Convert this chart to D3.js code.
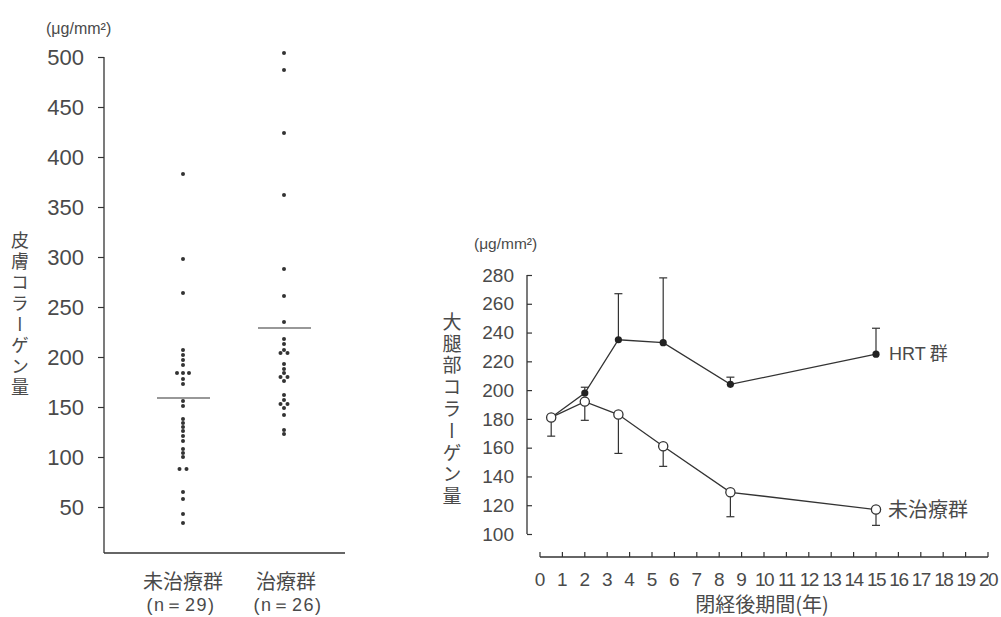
<!DOCTYPE html>
<html>
<head>
<meta charset="utf-8">
<script src="https://cdn.jsdelivr.net/npm/d3@7"></script>
<style>
  body { margin: 0; background: #fff; }
  text { font-family: "Liberation Sans", Arial, sans-serif; fill: #4a4a4a; }
  .jp { font-family: "Noto Sans CJK JP", sans-serif; }
</style>
</head>
<body>
<svg id="chart" width="1001" height="617"></svg>
<script>
// ---- Skin collagen by group (dot plot) ----
const groups = ["未治療群", "治療群"];
const groupN = ["(n＝29)", "(n＝26)"];
const untreatedSkin = [383, 298, 264, 207, 202, 197, 192, 184, 184, 184, 178, 173,
  156, 151, 138, 134, 130, 126, 121, 116, 108, 104, 100, 88, 88, 65, 58, 43, 34];
const treatedSkin = [504, 487, 424, 362, 288, 261, 235, 218, 213, 207, 204, 204,
  193, 188, 184, 180, 180, 176, 162, 157, 153, 153, 149, 142, 127, 123];
const groupMeans = [159, 229];
const skinTicks = [50, 100, 150, 200, 250, 300, 350, 400, 450, 500];

// ---- Thigh collagen vs. years since menopause ----
const years = [0.5, 2, 3.5, 5.5, 8.5, 15];
const hrtMean = [181, 198, 235, 233, 204, 225];
const hrtUpper = [181, 202, 267, 278, 209, 243];
const untreatedMean = [181, 192, 183, 161, 129, 117];
const untreatedLower = [168, 179, 156, 147, 112, 106];
const yearTicks = [0, 1, 2, 3, 4, 5, 6, 7, 8, 9, 10, 11, 12, 13, 14, 15, 16, 17, 18, 19, 20];
const thighTicks = [100, 120, 140, 160, 180, 200, 220, 240, 260, 280];

const ink = "#333";
const svg = d3.select("#chart");

// ================= left panel =================
const yS = d3.scaleLinear().domain([0, 500]).range([557, 57]);
const xS = d3.scalePoint().domain(groups).range([183, 284]);
const leftAxisX = 104, leftAxisBottom = 553, leftAxisRight = 345;

const left = svg.append("g");
left.append("line").attr("x1", leftAxisX).attr("x2", leftAxisX)
  .attr("y1", yS(500)).attr("y2", leftAxisBottom).attr("stroke", ink).attr("stroke-width", 1.3);
left.append("line").attr("x1", leftAxisX).attr("x2", leftAxisRight)
  .attr("y1", leftAxisBottom).attr("y2", leftAxisBottom).attr("stroke", ink).attr("stroke-width", 1.3);

const yAxisL = d3.axisLeft(yS).tickValues(skinTicks).tickSize(6).tickPadding(14);
const gL = left.append("g").attr("transform", `translate(${leftAxisX},0)`).call(yAxisL);
gL.select(".domain").remove();
gL.selectAll(".tick line").attr("stroke", ink).attr("stroke-width", 1.2);
gL.selectAll(".tick text").style("font-size", "22px").attr("fill", "#4a4a4a");

// dots: equal values spread side by side
function spread(values) {
  const counts = d3.rollup(values, v => v.length, d => d);
  const seen = new Map();
  return values.map(v => {
    const n = counts.get(v), i = seen.get(v) || 0;
    seen.set(v, i + 1);
    return { v, dx: (i - (n - 1) / 2) * (n === 2 ? 7 : 6) };
  });
}
[untreatedSkin, treatedSkin].forEach((vals, gi) => {
  left.append("g").selectAll("circle").data(spread(vals)).join("circle")
    .attr("cx", d => xS(groups[gi]) + d.dx)
    .attr("cy", d => yS(d.v))
    .attr("r", 2).attr("fill", "#333");
  left.append("line")
    .attr("x1", xS(groups[gi]) - 26).attr("x2", xS(groups[gi]) + 27)
    .attr("y1", yS(groupMeans[gi])).attr("y2", yS(groupMeans[gi]))
    .attr("stroke", ink).attr("stroke-width", 1.1);
});

left.append("text").attr("x", 46).attr("y", 34).style("font-size", "16px")
  .text("(μg/mm²)");
left.append("text").attr("class", "jp").attr("x", 20).attr("y", 231)
  .attr("writing-mode", "vertical-rl").style("font-size", "18px").style("letter-spacing", "3px")
  .text("皮膚コラーゲン量");
groups.forEach((g, i) => {
  left.append("text").attr("class", "jp").attr("x", xS(g) - (i ? -2 : 0)).attr("y", 589)
    .attr("text-anchor", "middle").style("font-size", "20px").text(g);
  left.append("text").attr("x", xS(g) + (i ? 4 : -2)).attr("y", 611)
    .attr("text-anchor", "middle").style("font-size", "18px").style("letter-spacing", "1.5px")
    .text(groupN[i]);
});

// ================= right panel =================
const xR = d3.scaleLinear().domain([0, 20]).range([540, 988]);
const yR = d3.scaleLinear().domain([100, 280]).range([534, 275]);
const rAxisX = 527, xAxisY = 557;

const right = svg.append("g");
right.append("line").attr("x1", rAxisX).attr("x2", rAxisX)
  .attr("y1", yR(280)).attr("y2", yR(100)).attr("stroke", ink).attr("stroke-width", 1.3);
const yAxisR = d3.axisRight(yR).tickValues(thighTicks).tickSize(5).tickFormat("");
const gR = right.append("g").attr("transform", `translate(${rAxisX},0)`).call(yAxisR);
gR.select(".domain").remove();
gR.selectAll(".tick line").attr("stroke", ink).attr("stroke-width", 1.2);
right.append("g").selectAll("text").data(thighTicks).join("text")
  .attr("x", 514).attr("y", d => yR(d)).attr("dy", "0.35em")
  .attr("text-anchor", "end").style("font-size", "19px").text(d => d);

right.append("line").attr("x1", xR(0)).attr("x2", xR(20))
  .attr("y1", xAxisY).attr("y2", xAxisY).attr("stroke", ink).attr("stroke-width", 1.3);
right.append("g").selectAll("line").data(yearTicks).join("line")
  .attr("x1", d => xR(d)).attr("x2", d => xR(d))
  .attr("y1", xAxisY).attr("y2", xAxisY - 5).attr("stroke", ink).attr("stroke-width", 1.2);
right.append("g").selectAll("text").data(yearTicks).join("text")
  .attr("x", d => xR(d)).attr("y", 586).attr("text-anchor", "middle")
  .style("font-size", "19px").style("letter-spacing", d => d >= 10 ? "-1.5px" : "0px")
  .text(d => d);

// error bars
function errBars(means, ends) {
  const g = right.append("g").attr("stroke", ink).attr("stroke-width", 1.2);
  years.forEach((yr, i) => {
    if (ends[i] === means[i]) return;
    g.append("line").attr("x1", xR(yr)).attr("x2", xR(yr))
      .attr("y1", yR(means[i])).attr("y2", yR(ends[i]));
    g.append("line").attr("x1", xR(yr) - 4).attr("x2", xR(yr) + 4)
      .attr("y1", yR(ends[i])).attr("y2", yR(ends[i]));
  });
}
errBars(hrtMean, hrtUpper);
errBars(untreatedMean, untreatedLower);

const line = d3.line().x((d, i) => xR(years[i])).y(d => yR(d));
right.append("path").datum(hrtMean).attr("d", line)
  .attr("fill", "none").attr("stroke", ink).attr("stroke-width", 1.3);
right.append("path").datum(untreatedMean).attr("d", line)
  .attr("fill", "none").attr("stroke", ink).attr("stroke-width", 1.3);

right.append("g").selectAll("circle").data(hrtMean.slice(1)).join("circle")
  .attr("cx", (d, i) => xR(years[i + 1])).attr("cy", d => yR(d))
  .attr("r", 3.6).attr("fill", "#222");
right.append("g").selectAll("circle").data(untreatedMean).join("circle")
  .attr("cx", (d, i) => xR(years[i])).attr("cy", d => yR(d))
  .attr("r", 4.6).attr("fill", "#fff").attr("stroke", ink).attr("stroke-width", 1.3);

right.append("text").attr("x", 889).attr("y", yR(225)).attr("dy", "0.35em")
  .style("font-size", "18px").text("HRT").append("tspan").attr("class", "jp").text(" 群");
right.append("text").attr("class", "jp").attr("x", 888).attr("y", yR(117)).attr("dy", "0.35em")
  .style("font-size", "20px").text("未治療群");

right.append("text").attr("x", 474).attr("y", 249).style("font-size", "15.5px").text("(μg/mm²)");
right.append("text").attr("class", "jp").attr("x", 452).attr("y", 312)
  .attr("writing-mode", "vertical-rl").style("font-size", "19px").style("letter-spacing", "2.8px")
  .text("大腿部コラーゲン量");
right.append("text").attr("class", "jp").attr("x", 762).attr("y", 612)
  .attr("text-anchor", "middle").style("font-size", "20px").text("閉経後期間(年)");
</script>
</body>
</html>
